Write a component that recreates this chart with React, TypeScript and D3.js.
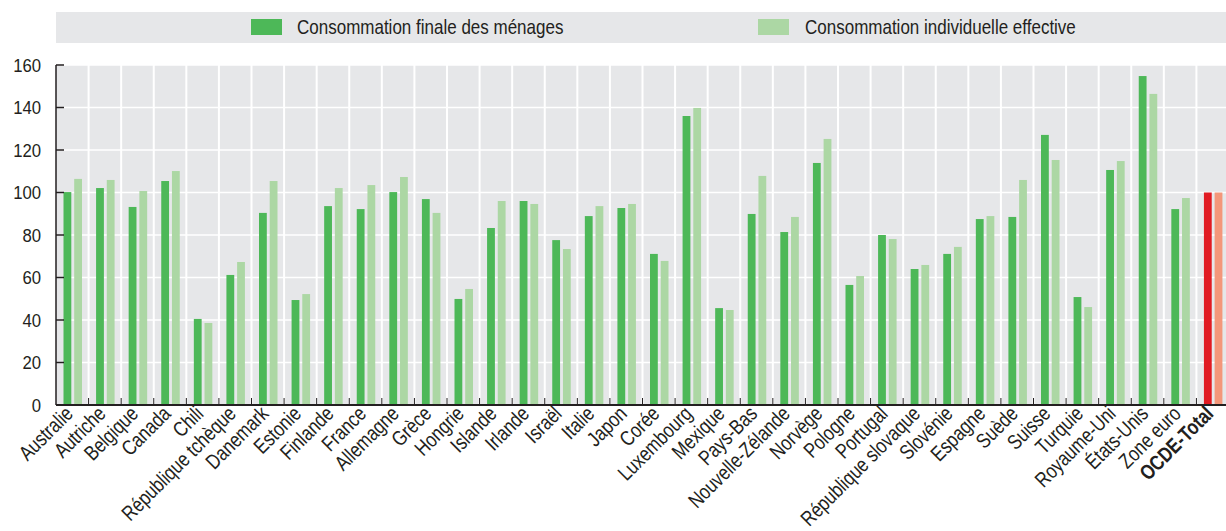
import React from 'react';
import * as d3 from 'd3';

const countries = [
  'Australie', 'Autriche', 'Belgique', 'Canada', 'Chili', 'République tchèque', 'Danemark',
  'Estonie', 'Finlande', 'France', 'Allemagne', 'Grèce', 'Hongrie', 'Islande', 'Irlande',
  'Israël', 'Italie', 'Japon', 'Corée', 'Luxembourg', 'Mexique', 'Pays-Bas',
  'Nouvelle-Zélande', 'Norvège', 'Pologne', 'Portugal', 'République slovaque', 'Slovénie',
  'Espagne', 'Suède', 'Suisse', 'Turquie', 'Royaume-Uni', 'États-Unis', 'Zone euro', 'OCDE-Total',
];

// Consommation finale des ménages
const consoFinale = [
  100.2, 102.1, 93.2, 105.4, 40.5, 61.2, 90.4, 49.4, 93.6, 92.2, 100.2, 96.9, 49.9, 83.3, 96.0,
  77.6, 88.9, 92.7, 71.1, 136.0, 45.6, 89.9, 81.4, 113.9, 56.5, 80.0, 64.0, 71.1, 87.5, 88.5,
  127.1, 50.8, 110.6, 154.8, 92.2, 100,
];

// Consommation individuelle effective
const consoIndiv = [
  106.4, 105.9, 100.7, 110.1, 38.6, 67.3, 105.4, 52.2, 102.1, 103.5, 107.3, 90.4, 54.6, 96.0, 94.6,
  73.4, 93.6, 94.6, 67.8, 139.8, 44.7, 107.8, 88.5, 125.2, 60.7, 78.1, 65.9, 74.4, 88.9, 105.9,
  115.3, 46.1, 114.8, 146.4, 97.4, 100,
];

const seriesNames = ['Consommation finale des ménages', 'Consommation individuelle effective'];
const yTicks = [0, 20, 40, 60, 80, 100, 120, 140, 160];
const highlight = 'OCDE-Total';

const width = 1226;
const height = 531;
const plot = { left: 56, right: 1229, top: 65, bottom: 405 };
const font = '"Liberation Sans", Arial, sans-serif';
const narrow = 'scale(0.81,1)'; // condensed look
const ink = '#231f20';

const colors = {
  dark: '#4db858',
  light: '#acd7a4',
  red: '#e11b22',
  salmon: '#f4977a',
  panel: '#e6e7e9',
};

const App = () => {
  const x = d3.scaleBand<string>().domain(countries).range([plot.left, plot.right]).padding(0);
  const y = d3.scaleLinear().domain([0, 160]).range([plot.bottom, plot.top]);
  const sub = d3.scaleBand<string>().domain(['a', 'b']).range([7.5, 26]).paddingInner(0.27);

  const boundaries = countries.slice(1).map(c => x(c) as number);

  return (
    <>
      <style>{`body { margin: 0; }`}</style>
      <svg width={width} height={height} style={{ display: 'block', fontFamily: font }}>
        {/* legend */}
        <rect x={56} y={12} width={width - 56} height={31} fill={colors.panel} />
        <rect x={251} y={19} width={31} height={16} fill={colors.dark} />
        <text transform={`translate(297,34) ${narrow}`} fontSize={21} fill={ink}>{seriesNames[0]}</text>
        <rect x={758} y={19} width={31} height={16} fill={colors.light} />
        <text transform={`translate(805,34) ${narrow}`} fontSize={21} fill={ink}>{seriesNames[1]}</text>

        {/* plot background */}
        <rect x={plot.left} y={plot.top} width={plot.right - plot.left} height={plot.bottom - plot.top} fill={colors.panel} />

        {/* grid */}
        {yTicks.slice(1).map(t => (
          <line key={'h' + t} x1={plot.left} x2={plot.right} y1={y(t)} y2={y(t)} stroke="#fff" strokeWidth={1.5} />
        ))}
        {boundaries.map((bx, i) => (
          <line key={'v' + i} x1={bx} x2={bx} y1={plot.top} y2={plot.bottom} stroke="#fff" strokeWidth={2} />
        ))}

        {/* bars */}
        {countries.map((c, i) => {
          const x0 = x(c) as number;
          const isHi = c === highlight;
          return (
            <g key={c}>
              <rect x={x0 + (sub('a') as number)} y={y(consoFinale[i])} width={sub.bandwidth()}
                height={y(0) - y(consoFinale[i])} fill={isHi ? colors.red : colors.dark} />
              <rect x={x0 + (sub('b') as number)} y={y(consoIndiv[i])} width={sub.bandwidth()}
                height={y(0) - y(consoIndiv[i])} fill={isHi ? colors.salmon : colors.light} />
            </g>
          );
        })}

        {/* axis ticks */}
        {boundaries.map((bx, i) => (
          <line key={'t' + i} x1={bx} x2={bx} y1={plot.bottom - 7} y2={plot.bottom} stroke={ink} strokeWidth={1} />
        ))}
        {yTicks.map(t => (
          <line key={'yt' + t} x1={plot.left} x2={plot.left + 8} y1={y(t)} y2={y(t)} stroke={ink} strokeWidth={1.5} />
        ))}
        <line x1={plot.left} x2={plot.left} y1={plot.top} y2={plot.bottom} stroke={ink} strokeWidth={1.5} />
        <line x1={plot.left} x2={width} y1={plot.bottom} y2={plot.bottom} stroke={ink} strokeWidth={2} />

        {/* y labels */}
        {yTicks.map(t => (
          <text key={'yl' + t} transform={`translate(41,${y(t)}) scale(0.88,1)`} dy="0.35em" textAnchor="end"
            fontSize={19} fill={ink}>{t}</text>
        ))}

        {/* x labels */}
        {countries.map(c => {
          const cx = (x(c) as number) + x.bandwidth() / 2 + 2;
          const cy = 415;
          return (
            <text key={'xl' + c} transform={`translate(${cx},${cy}) rotate(-45) ${narrow}`} textAnchor="end"
              fontSize={21} fill={ink} fontWeight={c === highlight ? 'bold' : 'normal'}>{c}</text>
          );
        })}
      </svg>
    </>
  );
};

export default App;
